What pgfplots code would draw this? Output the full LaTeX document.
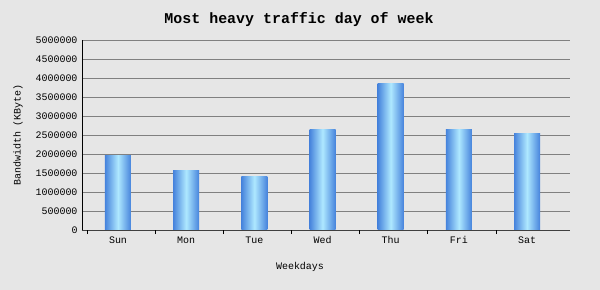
\documentclass[border=0pt]{standalone}
\usepackage{pgfplots}
\pgfplotsset{compat=1.18}
\usepackage{fontspec}
\setmainfont{Liberation Mono}
\definecolor{bg}{HTML}{E6E6E6}
\definecolor{barA}{HTML}{4683DC}
\definecolor{barB}{HTML}{AEE8FF}
\definecolor{gridc}{HTML}{808080}
\begin{document}
\begin{tikzpicture}
\fill[bg] (-82bp,-60bp) rectangle (518bp,230bp);
\begin{axis}[
  scale only axis,
  width=488bp, height=190bp,
  xmin=-0.528, xmax=6.63,
  ymin=0, ymax=5000000,
  ytick={0,500000,...,5000000},
  scaled y ticks=false,
  yticklabel style={/pgf/number format/fixed,/pgf/number format/1000 sep={},font=\fontsize{10}{12}\selectfont, xshift=-1bp},
  /pgf/number format/assume math mode=true,
  xtick={0,...,6},
  xticklabels={Sun,Mon,Tue,Wed,Thu,Fri,Sat},
  xticklabel style={font=\fontsize{10}{12}\selectfont, yshift=-3bp},
  major tick length=0pt,
  extra x ticks={-0.455,0.545,1.545,2.545,3.545,4.545,5.545},
  extra x tick labels={},
  extra x tick style={major tick length=4bp, tick style={black,line width=0.8pt}, tick pos=left, xtick align=outside},
  ymajorgrids,
  grid style={gridc, line width=0.9pt},
  axis x line*=bottom, axis y line*=left,
  x axis line style={gridc!50!black, line width=0.9pt, -},
  y axis line style={black, line width=0.9pt, -},
  xlabel={Weekdays},
  ylabel={Bandwidth (KByte)},
  xlabel style={font=\fontsize{10}{12}\selectfont, yshift=-8bp, xshift=-26bp},
  ylabel style={font=\fontsize{10}{12}\selectfont, yshift=6bp},
  title={\textbf{Most heavy traffic day of week}},
  title style={font=\fontsize{15}{18}\selectfont, yshift=4bp, xshift=-27bp},
  gbar/.style={ybar, bar width=26bp, bar shift=0pt, draw=none, left color=barA, right color=barA, middle color=barB, shading angle=90},
]
\addplot[gbar] coordinates {(0,1955000)};
\addplot[gbar] coordinates {(1,1560000)};
\addplot[gbar] coordinates {(2,1400000)};
\addplot[gbar] coordinates {(3,2640000)};
\addplot[gbar] coordinates {(4,3850000)};
\addplot[gbar] coordinates {(5,2640000)};
\addplot[gbar] coordinates {(6,2530000)};
\end{axis}
\end{tikzpicture}
\end{document}
